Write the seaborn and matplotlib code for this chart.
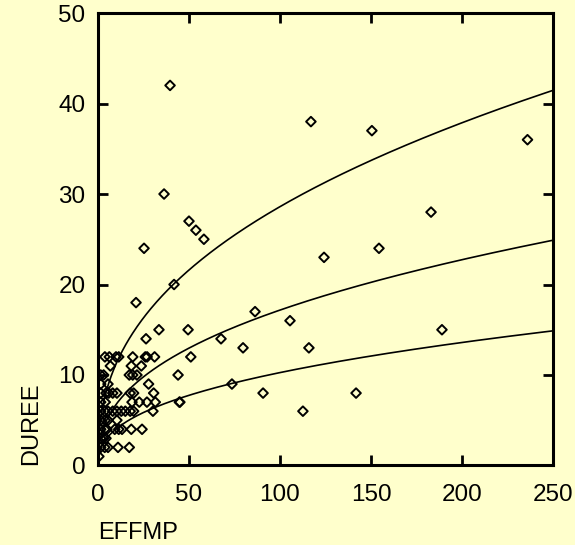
import numpy as np
import pandas as pd
import matplotlib
matplotlib.use("Agg")
import matplotlib.pyplot as plt
import seaborn as sns

# Scatter data
effmp = [39.6, 117, 150.5, 236, 36.3, 183, 50, 53.8, 58.2, 25.3, 154.4, 124.2, 41.8, 20.9,
         86.3, 105.5, 49.5, 33.5, 189, 67.6, 26.4, 79.7, 115.9, 51, 73.6, 90.7, 141.8, 112.6,
         44, 45, 44.7,
         6.2, 9.9, 11.4, 19.1, 26, 27, 31.1, 3.8,
         6.8, 18.3, 23.8,
         3.1, 17.2, 19.1, 21.4, 1.5,
         5.5, 27.8, 1.5,
         4.4, 5.9, 8.1, 10.4, 17.7, 19.6, 30.6, 1.5,
         4, 18.7, 22.7, 26.9, 31.5, 1.5,
         3.7, 5.5, 8.1, 10.4, 12.8, 15, 17.7, 19.6, 30.2, 1.5,
         4, 5.5, 10.4, 1.5,
         3.7, 4.9, 9.2, 11.4, 13.2, 18.3, 24.2, 1.5,
         3.1, 4.4, 1.5,
         3.7, 5.5, 11, 17.2, 1.5,
         0.5]
duree = [42, 38, 37, 36, 30, 28, 27, 26, 25, 24, 24, 23, 20, 18,
         17, 16, 15, 15, 15, 14, 14, 13, 13, 12, 9, 8, 8, 6,
         10, 7, 7,
         12, 12, 12, 12, 12, 12, 12, 12,
         11, 11, 11,
         10, 10, 10, 10, 10,
         9, 9, 9,
         8, 8, 8, 8, 8, 8, 8, 8,
         7, 7, 7, 7, 7, 7,
         6, 6, 6, 6, 6, 6, 6, 6, 6, 6,
         5, 5, 5, 5,
         4, 4, 4, 4, 4, 4, 4, 4,
         3, 3, 3,
         2, 2, 2, 2, 2,
         1]

# Fitted power curves: DUREE = coef * EFFMP ** 0.405
curve_coefs = [4.43, 2.66, 1.59]
curve_exponent = 0.405

bg = "#FFFFCC"
fig = plt.figure(figsize=(5.75, 5.45), dpi=100, facecolor=bg)
ax = fig.add_axes([0.1704, 0.1459, 0.9617 - 0.1704, 0.9761 - 0.1459])
ax.set_facecolor(bg)

df = pd.DataFrame({"EFFMP": effmp, "DUREE": duree})
sns.scatterplot(data=df, x="EFFMP", y="DUREE", ax=ax, marker="D", s=24,
                facecolor="none", edgecolor="black", linewidth=1.4, zorder=3)

xs = np.linspace(0.3, 250, 400)
for c in curve_coefs:
    cdf = pd.DataFrame({"x": xs, "y": c * xs ** curve_exponent})
    sns.lineplot(data=cdf, x="x", y="y", ax=ax, color="black", linewidth=1.2, zorder=2)

ax.set_xlim(0, 250)
ax.set_ylim(0, 50)
ax.set_xticks([0, 50, 100, 150, 200, 250])
ax.set_yticks([0, 10, 20, 30, 40, 50])
for s in ax.spines.values():
    s.set_linewidth(2.2)
    s.set_color("black")
ax.tick_params(direction="in", length=7, width=2, top=True, right=True,
               labelsize=17.5, colors="black")
ax.tick_params(axis="x", pad=13)
ax.tick_params(axis="y", pad=9)
font = "Liberation Sans"
for lab in ax.get_xticklabels() + ax.get_yticklabels():
    lab.set_fontfamily(font)
ax.set_xlabel("EFFMP", fontsize=17, family=font, loc="left", labelpad=12)
ax.set_ylabel("DUREE", fontsize=17, family=font, loc="bottom", labelpad=12)
ax.grid(False)

fig.savefig("out.png", dpi=100, facecolor=bg)
